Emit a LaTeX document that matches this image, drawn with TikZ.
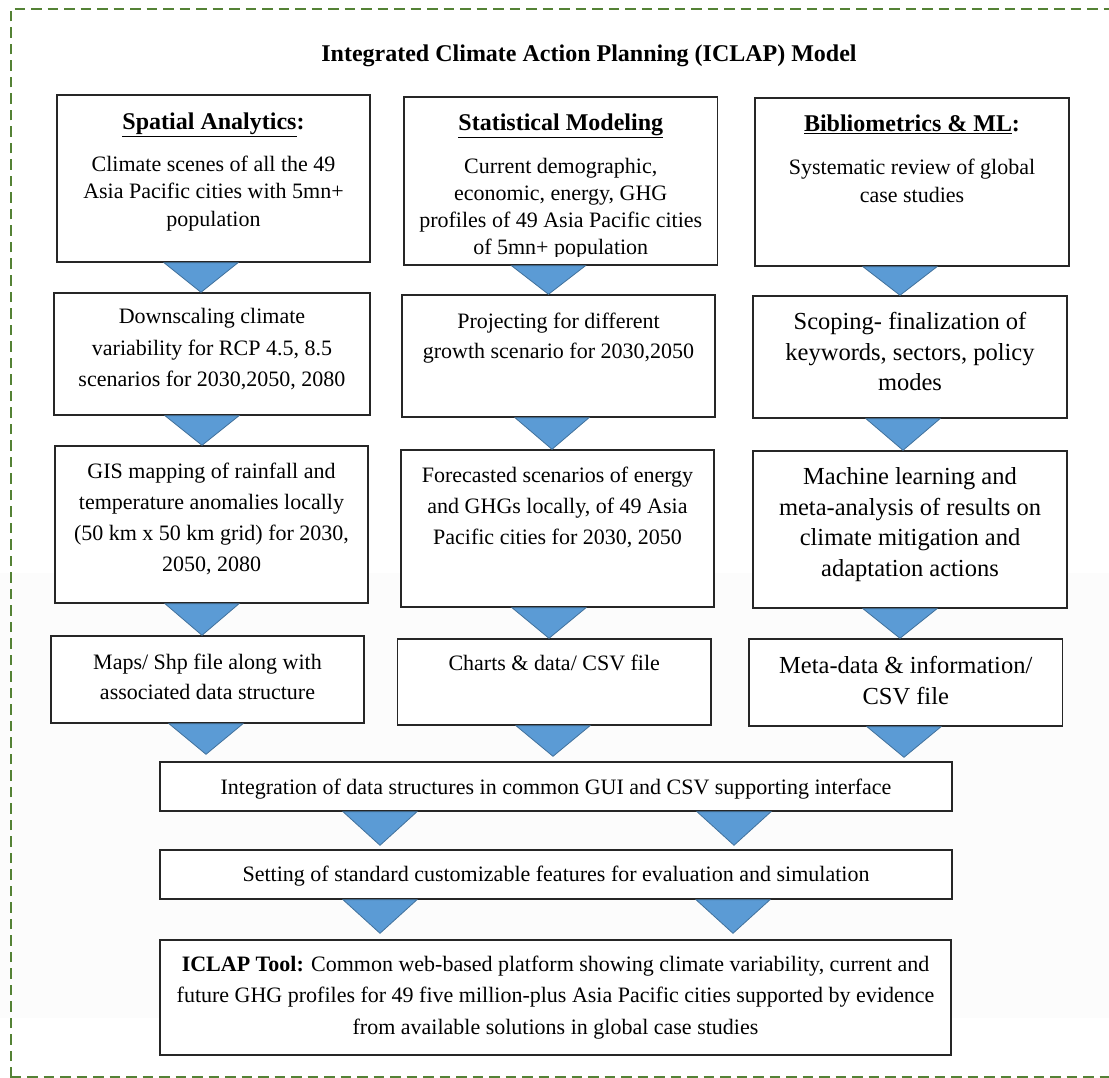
\documentclass[tikz,border=0pt]{standalone}
\usepackage{fontspec}
\setmainfont{Liberation Serif}
\usetikzlibrary{calc}
\definecolor{frameg}{HTML}{548235}
\definecolor{arrfill}{HTML}{5B9BD5}
\definecolor{arrline}{HTML}{41719C}
\definecolor{boxline}{HTML}{262626}
\definecolor{bgtint}{HTML}{FCFCFC}
\tikzset{
  flbox/.style={draw=boxline, line width=1.4pt, fill=white, inner sep=0pt},
  txt/.style={anchor=north, align=center, inner sep=0pt, font=\fontsize{22}{31}\selectfont},
  bigtxt/.style={anchor=north, align=center, inner sep=0pt, font=\fontsize{24.5}{30.5}\selectfont},
  hd/.style={anchor=north, inner sep=0pt, font=\bfseries\fontsize{24}{28}\selectfont},
  tri/.style={fill=arrfill, draw=arrline, line width=0.8pt, line join=miter},
  framedash/.style={frameg, line width=2.4pt, dash pattern=on 10.5pt off 6pt},
}
\newcommand\flowbox[5]{\node[flbox, minimum width=#4pt, minimum height=#5pt] (#1) at (#2,#3) {};}
\newcommand\dtri[4]{\draw[tri] ({#1-37},0 |- #2.south) -- ({#1+37},0 |- #2.south) -- ($(#1,0 |- #3.north)+(0,#4)$) -- cycle;}
\begin{document}
\begin{tikzpicture}[x=1pt,y=-1pt]
\useasboundingbox (0,0) rectangle (1109,1078);
\fill[bgtint] (0,573) rectangle (1109,1018);
% frame
\draw[framedash] (10.7,1077.5) -- (10.7,9) -- (1115,9);
\draw[framedash] (10.7,1077.5) -- (1115,1077.5);
% title
\node[hd] (title) at (589,44.5) {Integrated Climate Action Planning (ICLAP) Model};
% boxes
\flowbox{A1}{213.5}{178.5}{313}{167}
\flowbox{B1}{560.75}{181}{313.5}{168}
\flowbox{C1}{912}{182}{314}{168}
\flowbox{A2}{212}{354}{316}{122}
\flowbox{B2}{558.5}{356}{313}{122}
\flowbox{C2}{910}{357}{314}{122}
\flowbox{A3}{211.5}{524.5}{313}{157}
\flowbox{B3}{557.5}{528.5}{313}{157}
\flowbox{C3}{910}{529.5}{314}{157}
\flowbox{A4}{207.5}{679.5}{313}{87}
\flowbox{B4}{554.25}{682}{313.5}{86}
\flowbox{C4}{905.75}{682.5}{313.5}{87}
\flowbox{INT}{556}{786.5}{792}{49}
\flowbox{SET}{556}{874.5}{792}{49}
\flowbox{TOOL}{555.5}{997.5}{791}{115}
% texts row 1
\node[hd] (tA1h) at (213.5,112.5) {\underline{Spatial Analytics}:};
\node[txt, font=\fontsize{22}{27.5}\selectfont] (tA1) at (213.5,155.5) {Climate scenes of all the 49\\Asia Pacific cities with 5mn+\\population};
\node[hd] (tB1h) at (560.75,113.5) {\underline{Statistical Modeling}};
\begin{scope}
\clip (B1.north west) rectangle ($(B1.south east)+(0,-9.5)$);
\node[txt, font=\fontsize{22}{27}\selectfont] (tB1) at (560.75,158.5) {Current demographic,\\economic, energy, GHG\\profiles of 49 Asia Pacific cities\\of 5mn+ population};
\end{scope}
\node[hd] (tC1h) at (912,114.5) {\underline{Bibliometrics \& ML}:};
\node[txt, font=\fontsize{22}{28}\selectfont] (tC1) at (912,158.5) {Systematic review of global\\case studies};
% row 2
\node[txt, font=\fontsize{22}{31.5}\selectfont] (tA2) at (212,308.5) {Downscaling climate\\variability for RCP 4.5, 8.5\\scenarios for 2030,2050, 2080};
\node[txt, font=\fontsize{22}{30}\selectfont] (tB2) at (558.5,312.5) {Projecting for different\\growth scenario for 2030,2050};
\node[bigtxt] (tC2) at (910,312.5) {Scoping- finalization of\\keywords, sectors, policy\\modes};
% row 3
\node[txt] (tA3) at (211.5,462.5) {GIS mapping of rainfall and\\temperature anomalies locally\\(50 km x 50 km grid) for 2030,\\2050, 2080};
\node[txt] (tB3) at (557.5,466.5) {Forecasted scenarios of energy\\and GHGs locally, of 49 Asia\\Pacific cities for 2030, 2050};
\node[bigtxt] (tC3) at (910,467.5) {Machine learning and\\meta-analysis of results on\\climate mitigation and\\adaptation actions};
% row 4
\node[txt, font=\fontsize{22}{30}\selectfont] (tA4) at (207.5,653.5) {Maps/ Shp file along with\\associated data structure};
\node[txt] (tB4) at (554.25,654.5) {Charts \& data/ CSV file};
\node[bigtxt, font=\fontsize{24.5}{31}\selectfont] (tC4) at (905.75,656.5) {Meta-data \& information/\\CSV file};
% bottom
\node[txt] (tINT) at (556,778.5) {Integration of data structures in common GUI and CSV supporting interface};
\node[txt] (tSET) at (556,865.5) {Setting of standard customizable features for evaluation and simulation};
\node[txt, font=\fontsize{22}{31.5}\selectfont] (tTOOL) at (555.5,955.5) {\textbf{ICLAP Tool:} Common web-based platform showing climate variability, current and\\future GHG profiles for 49 five million-plus Asia Pacific cities supported by evidence\\from available solutions in global case studies};
% arrows
\dtri{201}{A1}{A2}{0}
\dtri{202}{A2}{A3}{0}
\dtri{202}{A3}{A4}{0}
\dtri{206}{A4}{INT}{-7}
\dtri{548.5}{B1}{B2}{0}
\dtri{552}{B2}{B3}{0}
\dtri{549}{B3}{B4}{0}
\dtri{553}{B4}{INT}{-5}
\dtri{900}{C1}{C2}{0}
\dtri{903}{C2}{C3}{0}
\dtri{900}{C3}{C4}{0}
\dtri{904}{C4}{INT}{-4}
\dtri{380}{INT}{SET}{-4}
\dtri{734}{INT}{SET}{-4}
\dtri{380}{SET}{TOOL}{-6}
\dtri{733}{SET}{TOOL}{-6}
\end{tikzpicture}
\end{document}
